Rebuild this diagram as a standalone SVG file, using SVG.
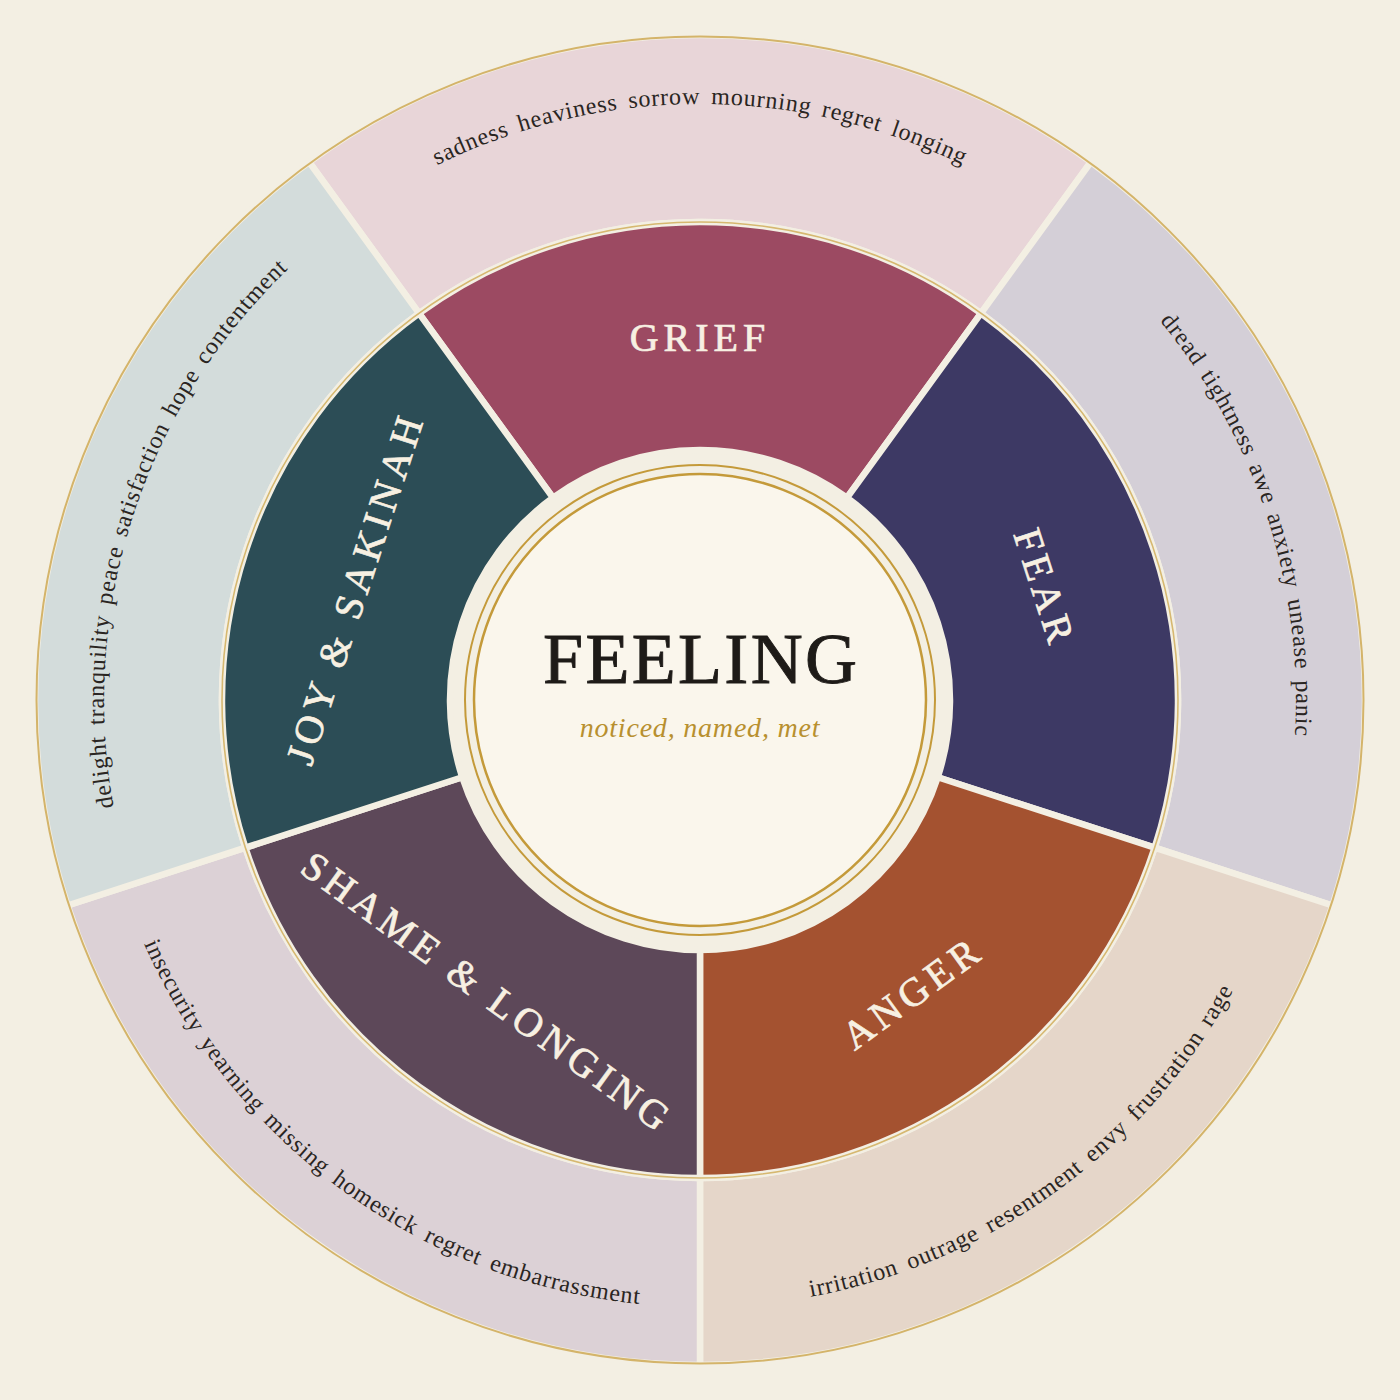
<svg xmlns="http://www.w3.org/2000/svg" xmlns:xlink="http://www.w3.org/1999/xlink" width="1400" height="1400" viewBox="0 0 1400 1400">
  <style>
    .seg { stroke: #f3efe3; stroke-width: 6.5; stroke-linejoin: miter; }
    .title { font-family: "Liberation Serif", "Times New Roman", serif; font-size: 40px; letter-spacing: 5px; fill: #f7f0e2; stroke: #f7f0e2; stroke-width: 0.7; text-anchor: middle; }
    .words { font-family: "Liberation Serif", "Times New Roman", serif; font-size: 24px; letter-spacing: 0.8px; word-spacing: 4px; fill: #2a2522; }
  </style>
  <defs>
    <path id="arcTop" d="M 106.27 648.05 A 596 596 0 0 1 1293.73 648.05"/>
    <path id="arcBottom" d="M 95.31 752.90 A 607 607 0 0 0 1304.69 752.90"/>
  </defs>
  <rect x="0" y="0" width="1400" height="1400" fill="#f3efe3"/>

  <g id="outer-ring">
    <path id="grief-outer" class="seg" fill="#e8d5d8" d="M 309.12 162 A 665 665 0 0 1 1090.88 162 L 980.96 313.29 A 478 478 0 0 0 419.04 313.29 Z"/>
    <path id="fear-outer" class="seg" fill="#d4cfd7" d="M 1090.88 162 A 665 665 0 0 1 1332.45 905.5 L 1154.61 847.71 A 478 478 0 0 0 980.96 313.29 Z"/>
    <path id="anger-outer" class="seg" fill="#e5d6c9" d="M 1332.45 905.5 A 665 665 0 0 1 700 1365 L 700 1178 A 478 478 0 0 0 1154.61 847.71 Z"/>
    <path id="shame-outer" class="seg" fill="#dcd1d6" d="M 700 1365 A 665 665 0 0 1 67.55 905.5 L 245.39 847.71 A 478 478 0 0 0 700 1178 Z"/>
    <path id="joy-outer" class="seg" fill="#d3dcdb" d="M 67.55 905.5 A 665 665 0 0 1 309.12 162 L 419.04 313.29 A 478 478 0 0 0 245.39 847.71 Z"/>
  </g>

  <g id="inner-ring">
    <path id="grief" class="seg" fill="#9c4a62" d="M 419.04 313.29 A 478 478 0 0 1 980.96 313.29 L 846.95 497.75 A 250 250 0 0 0 553.05 497.75 Z"/>
    <path id="fear" class="seg" fill="#3d3964" d="M 980.96 313.29 A 478 478 0 0 1 1154.61 847.71 L 937.76 777.25 A 250 250 0 0 0 846.95 497.75 Z"/>
    <path id="anger" class="seg" fill="#a45230" d="M 1154.61 847.71 A 478 478 0 0 1 700 1178 L 700 950 A 250 250 0 0 0 937.76 777.25 Z"/>
    <path id="shame" class="seg" fill="#5d4859" d="M 700 1178 A 478 478 0 0 1 245.39 847.71 L 462.24 777.25 A 250 250 0 0 0 700 950 Z"/>
    <path id="joy" class="seg" fill="#2c4d56" d="M 245.39 847.71 A 478 478 0 0 1 419.04 313.29 L 553.05 497.75 A 250 250 0 0 0 462.24 777.25 Z"/>
  </g>

  <g id="rings" fill="none">
    <circle cx="700" cy="700" r="478" stroke="#d6b870" stroke-width="1.6"/>
    <circle cx="700" cy="700" r="663.5" stroke="#d4b46a" stroke-width="2"/>
  </g>

  <g id="center">
    <circle cx="700" cy="700" r="235" fill="none" stroke="#c49a3a" stroke-width="2"/>
    <circle cx="700" cy="700" r="226" fill="#faf6ec" stroke="#c49a3a" stroke-width="2.5"/>
    <text x="700" y="683" text-anchor="middle" textLength="314" lengthAdjust="spacing" font-family="Liberation Serif, Times New Roman, serif" font-size="72" fill="#1e1b18" stroke="#1e1b18" stroke-width="0.9">FEELING</text>
    <text x="700" y="737" text-anchor="middle" font-family="Liberation Serif, Times New Roman, serif" font-style="italic" font-size="28" letter-spacing="0.8" fill="#b8902f">noticed, named, met</text>
  </g>

  <g id="titles">
    <text class="title" x="700" y="351">GRIEF</text>
    <text class="title" x="700" y="351" transform="rotate(72 700 700)">FEAR</text>
    <text class="title" x="700" y="1075" transform="rotate(-36 700 700)">ANGER</text>
    <text class="title" x="700" y="1075" transform="rotate(36 700 700)">SHAME &amp; LONGING</text>
    <text class="title" x="700" y="351" transform="rotate(-72 700 700)">JOY &amp; SAKINAH</text>
  </g>

  <g id="outer-words">
    <text class="words"><textPath href="#arcTop" xlink:href="#arcTop" startOffset="50%" text-anchor="middle">sadness heaviness sorrow mourning regret longing</textPath></text>
    <text class="words" transform="rotate(72 700 700)"><textPath href="#arcTop" xlink:href="#arcTop" startOffset="50%" text-anchor="middle">dread tightness awe anxiety unease panic</textPath></text>
    <text class="words" transform="rotate(-36 700 700)"><textPath href="#arcBottom" xlink:href="#arcBottom" startOffset="50%" text-anchor="middle">irritation outrage resentment envy frustration rage</textPath></text>
    <text class="words" transform="rotate(36 700 700)"><textPath href="#arcBottom" xlink:href="#arcBottom" startOffset="50%" text-anchor="middle">insecurity yearning missing homesick regret embarrassment</textPath></text>
    <text class="words" transform="rotate(-72 700 700)"><textPath href="#arcTop" xlink:href="#arcTop" startOffset="50%" text-anchor="middle">delight tranquility peace satisfaction hope contentment</textPath></text>
  </g>
</svg>
